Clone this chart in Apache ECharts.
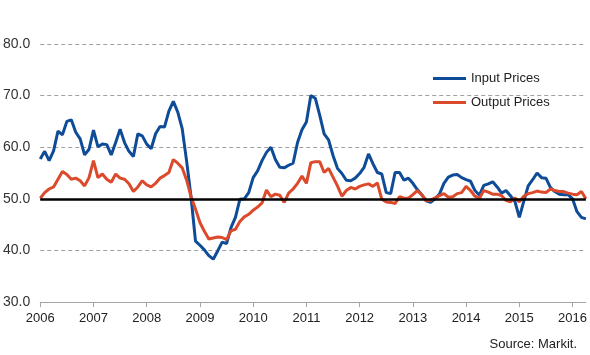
<!DOCTYPE html>
<html>
<head>
<meta charset="utf-8">
<script src="https://cdn.jsdelivr.net/npm/echarts@6/dist/echarts.min.js"></script>
<style>
  html, body { margin: 0; padding: 0; background: #ffffff; }
  #chart { width: 590px; height: 355px; }
</style>
</head>
<body>
<div id="chart"></div>
<script>
// ---- Data (monthly, Jan 2006 - Apr 2016) ----
const years = ['2006','2007','2008','2009','2010','2011','2012','2013','2014','2015','2016'];
const monthsInLastYear = 4;

const inputPrices = [
  57.7, 59.2, 57.4, 59.3, 63.1, 62.4, 65.0, 65.3, 62.9, 61.6, 58.5, 59.6,
  63.3, 60.1, 60.6, 60.5, 58.5, 60.9, 63.5, 60.9, 59.2, 58.2, 62.6, 62.2,
  60.6, 59.7, 62.6, 64.0, 63.9, 67.0, 68.9, 66.8, 63.6, 57.3, 50.3, 41.8,
  41.0, 40.1, 39.0, 38.3, 39.9, 41.6, 41.3, 44.4, 46.4, 49.9, 50.0, 51.2,
  54.1, 55.4, 57.4, 59.0, 60.0, 57.6, 56.1, 56.0, 56.5, 56.9, 60.9, 63.4,
  64.9, 70.0, 69.5, 66.2, 62.6, 61.4, 58.4, 55.9, 54.9, 53.6, 53.5, 54.0,
  54.9, 56.1, 58.7, 56.8, 55.1, 54.8, 51.2, 51.0, 55.1, 55.1, 53.6, 54.0,
  53.0, 51.8, 50.8, 49.6, 49.3, 50.0, 50.9, 53.0, 54.2, 54.6, 54.7, 54.1,
  53.7, 53.4, 51.6, 50.7, 52.6, 52.9, 53.3, 52.3, 51.1, 51.6, 50.6, 49.5,
  46.4, 49.5, 52.5, 53.7, 55.0, 54.1, 54.0, 52.2, 51.4, 50.9, 50.8, 50.8,
  50.0, 47.5, 46.4, 46.1
];

const outputPrices = [
  50.1, 51.2, 51.9, 52.3, 53.8, 55.3, 54.7, 53.8, 54.0, 53.5, 52.5, 54.1,
  57.4, 54.1, 54.8, 53.8, 53.2, 54.8, 54.0, 53.8, 52.9, 51.4, 52.3, 53.5,
  52.7, 52.3, 53.0, 54.0, 54.5, 55.1, 57.6, 56.9, 56.0, 53.6, 50.4, 48.0,
  45.4, 43.7, 42.2, 42.4, 42.6, 42.5, 42.1, 43.8, 44.1, 45.6, 46.5, 47.0,
  47.8, 48.4, 49.2, 51.7, 50.4, 50.9, 50.7, 49.3, 51.1, 51.9, 53.0, 54.4,
  53.0, 57.0, 57.2, 57.2, 55.1, 55.9, 54.2, 52.5, 50.5, 51.6, 52.2, 51.9,
  52.4, 52.7, 52.9, 52.4, 53.1, 49.9, 49.4, 49.3, 49.1, 50.4, 50.1, 50.1,
  50.8, 51.6, 50.8, 49.6, 49.7, 50.2, 50.6, 51.0, 50.3, 50.4, 51.0, 51.2,
  52.4, 51.6, 50.5, 50.1, 51.6, 51.3, 50.9, 50.9, 50.6, 49.7, 49.4, 50.2,
  49.4, 50.5, 51.0, 51.2, 51.5, 51.3, 51.2, 51.9, 51.6, 51.4, 51.4, 51.1,
  50.9, 50.8, 51.4, 50.0
];

const seriesNames = ['Input Prices', 'Output Prices'];
const yTicks = [30, 40, 50, 60, 70, 80];
const referenceLevel = 50;
const sourceText = 'Source: Markit.';

// ---- Build categories ----
const categories = [];
years.forEach((y, i) => {
  const n = (i === years.length - 1) ? monthsInLastYear : 12;
  for (let m = 1; m <= n; m++) categories.push(y + '-' + (m < 10 ? '0' + m : m));
});

const FONT = '"Liberation Sans", Arial, sans-serif';
const chart = echarts.init(document.getElementById('chart'), null, { renderer: 'canvas' });

chart.setOption({
  animation: false,
  backgroundColor: '#ffffff',
  textStyle: { fontFamily: FONT },
  grid: { left: 40, right: 4, top: 44, bottom: 53, containLabel: false },
  legend: {
    orient: 'vertical',
    left: 428,
    top: 67,
    itemGap: 11,
    itemWidth: 33,
    itemHeight: 3,
    icon: 'rect',
    textStyle: { fontFamily: FONT, fontSize: 13, color: '#222222' },
    data: seriesNames
  },
  xAxis: {
    type: 'category',
    data: categories,
    boundaryGap: false,
    axisLine: { show: true, lineStyle: { color: '#a6a6a6', width: 1 } },
    axisTick: {
      show: true,
      length: 5,
      interval: (idx) => idx % 12 === 0,
      lineStyle: { color: '#a6a6a6' }
    },
    axisLabel: {
      interval: (idx) => idx % 12 === 0,
      formatter: (v) => v.slice(0, 4),
      fontFamily: FONT,
      fontSize: 13,
      color: '#222222',
      margin: 10
    },
    splitLine: { show: false }
  },
  yAxis: {
    type: 'value',
    min: yTicks[0],
    max: yTicks[yTicks.length - 1],
    interval: 10,
    axisLine: { show: false },
    axisTick: { show: false },
    axisLabel: {
      formatter: (v) => v.toFixed(1),
      fontFamily: FONT,
      fontSize: 14,
      color: '#333333',
      margin: 10
    },
    splitLine: { show: true, lineStyle: { color: '#a0a0a0', type: [4, 3], width: 1 } }
  },
  series: [
    {
      name: seriesNames[0],
      type: 'line',
      data: inputPrices,
      showSymbol: false,
      symbol: 'none',
      lineStyle: { color: '#0F4C97', width: 3 },
      itemStyle: { color: '#0F4C97' },
      z: 3
    },
    {
      name: seriesNames[1],
      type: 'line',
      data: outputPrices,
      showSymbol: false,
      symbol: 'none',
      lineStyle: { color: '#DB4A2B', width: 3 },
      itemStyle: { color: '#DB4A2B' },
      z: 4,
      markLine: {
        silent: true,
        symbol: 'none',
        label: { show: false },
        lineStyle: { color: '#000000', width: 2.5, type: 'solid' },
        data: [{ yAxis: referenceLevel }],
        z: 10
      }
    }
  ],
  graphic: [
    {
      type: 'text',
      right: 13,
      top: 338,
      style: { text: sourceText, font: '13px ' + FONT, fill: '#222222' }
    }
  ]
});
</script>
</body>
</html>
